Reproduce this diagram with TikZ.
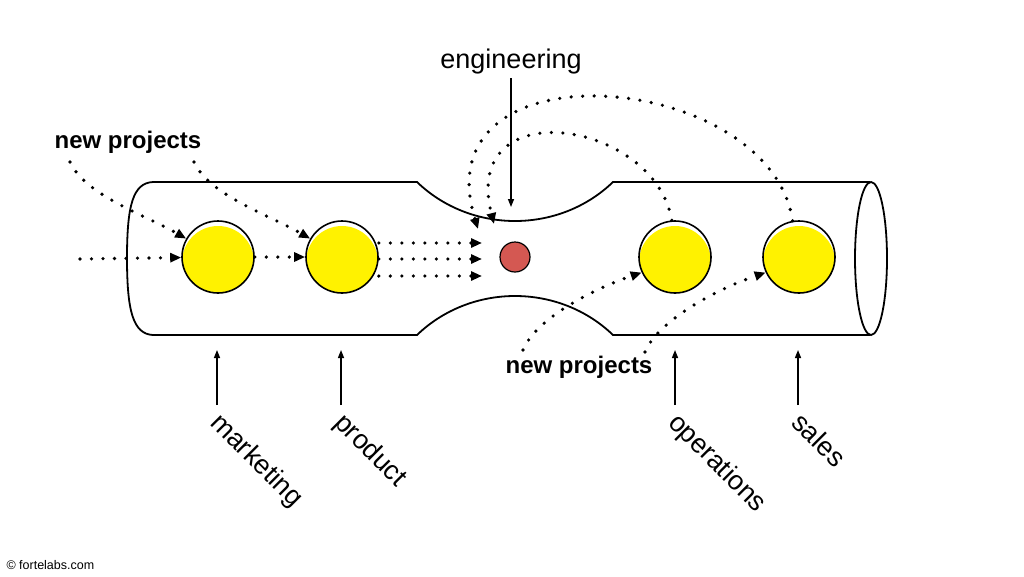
\documentclass[tikz,border=0pt]{standalone}
\usepackage{fontspec}
\setmainfont{Liberation Sans}
\usetikzlibrary{arrows.meta,positioning}
\definecolor{dotred}{RGB}{212,88,82}

\begin{document}
\begin{tikzpicture}[x=1pt,y=-1pt,>={Triangle[length=11pt,width=9pt]},
  dept/.style={circle,draw,line width=1.6pt,fill=white,minimum size=72pt,inner sep=0pt,
    path picture={\fill[yellow] ([yshift=-5pt]path picture bounding box.center) circle (36pt);}},
  core/.style={circle,draw,line width=1.2pt,fill=dotred,minimum size=30pt,inner sep=0pt},
  flow/.style={->,line width=3.6pt,dash pattern=on 0pt off 11.5pt,line cap=round},
  up/.style={line width=1.4pt,-{Triangle[length=8pt,width=6pt]}},
  big/.style={font=\fontsize{24}{28}\selectfont\bfseries},
  tag/.style={font=\fontsize{27}{32}\selectfont,rotate=-45,anchor=north west,inner sep=0pt}]
  \useasboundingbox (0,0) rectangle (1024,576);

  % the pipe
  \draw[line width=1.8pt] (153,182) -- (417,182) .. controls (471,234) and (559,234) .. (613,182)
    -- (870,182) (870,335) -- (613,335) .. controls (559,283) and (471,283) .. (417,335)
    -- (153,335) .. controls (133,334) and (127,311) .. (127,258)
    .. controls (127,205) and (133,183) .. (153,182);
  \draw[line width=1.8pt] (871,258.5) ellipse[x radius=16, y radius=76.5];

  \node[dept] (mkt)   at (218,257) {};
  \node[dept] (prod)  at (342,257) {};
  \node[dept] (ops)   at (675,257) {};
  \node[dept] (sales) at (799,257) {};
  \node[core] (eng)   at (515,257) {};

  \node[font=\fontsize{27}{32}\selectfont] (englbl) at (511,62) {engineering};
  \node[big] (np1) at (128,142) {new projects};
  \node[big] (np2) at (579,367) {new projects};
  \node[font=\fontsize{12.5}{14}\selectfont,anchor=west] (copy) at (3,565) {© fortelabs.com};

  % work coming in
  \coordinate (src) at (80,259);
  \coordinate (s1) at (70,162);
  \coordinate (s2) at (194,162);
  \coordinate (s3) at (523,350);
  \coordinate (s4) at (645,352);
  \draw[flow] (src) -- (mkt);
  \draw[flow] (mkt) -- (prod);
  \draw[flow] (s1) .. controls (85,195) and (145,215) .. (mkt.150);
  \draw[flow] (s2) .. controls (209,195) and (269,215) .. (prod.150);
  \draw[flow] (s3) .. controls (535,320) and (590,290) .. (ops.205);
  \draw[flow] (s4) .. controls (657,322) and (714,290) .. (sales.205);

  % the bottleneck
  \foreach \y [count=\i] in {243,259,276} {
    \coordinate (t\i) at (482,\y);
    \draw[flow] (prod.east |- t\i) -- (t\i);
  }
  \coordinate (e1) at (478,229);
  \coordinate (e2) at (494,224);
  \draw[flow] (sales.100) .. controls (770,70) and (420,40) .. (e1);
  \draw[flow] (ops.95) .. controls (655,120) and (460,90) .. (e2);

  \coordinate (engtip) at (511,207);
  \draw[up] (englbl) -- (engtip);

  \foreach \n/\x/\t in {mkt/217/marketing,prod/341/product,ops/675/operations,sales/798/sales} {
    \coordinate (\n b) at (\x,405);
    \coordinate (\n t) at (\x,350);
    \draw[up] (\n b) -- (\n t);
    \node[tag] at (\x+6,410) {\t};
  }
\end{tikzpicture}
\end{document}
